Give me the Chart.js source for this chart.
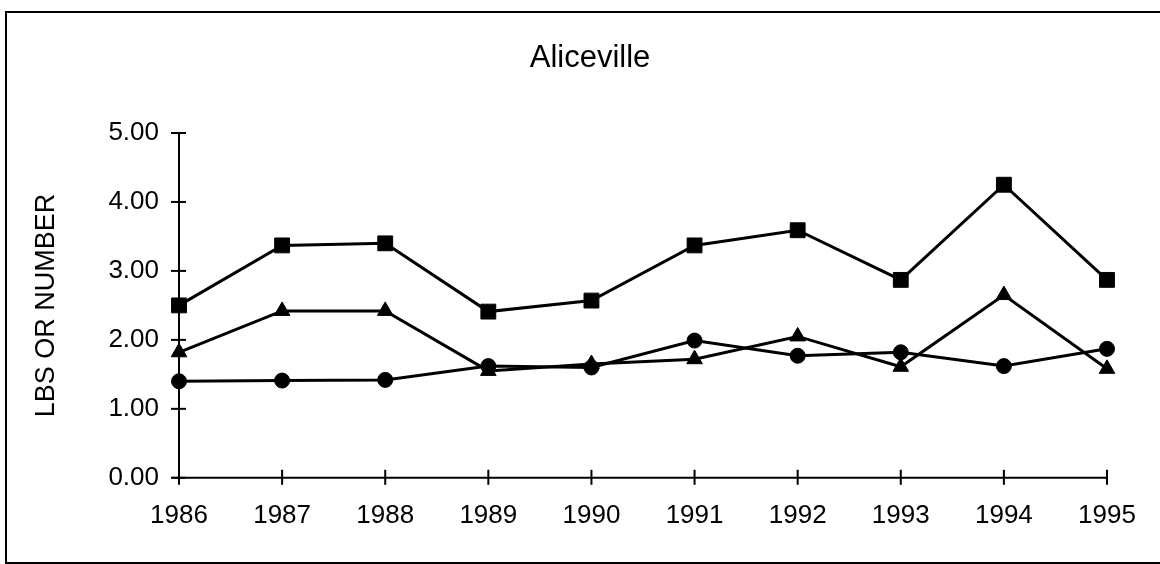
<!DOCTYPE html>
<html>
<head>
<meta charset="utf-8">
<script src="https://cdn.jsdelivr.net/npm/chart.js@4"></script>
<style>
  html, body { margin: 0; padding: 0; background: #fff; overflow: hidden; }
  #wrap { position: relative; width: 1160px; height: 564px; }
  #frame { position: absolute; left: 5px; top: 11px; width: 1200px; height: 549px;
           border-left: 2px solid #000; border-top: 2px solid #000; border-bottom: 2px solid #000; pointer-events: none; }
  canvas { position: absolute; left: 0; top: 0; }
</style>
</head>
<body>
<div id="wrap">
  <canvas id="c" width="1160" height="564"></canvas>
  <div id="frame"></div>
</div>
<script>
const years = ['1986','1987','1988','1989','1990','1991','1992','1993','1994','1995'];
const squareSeries   = [2.50, 3.37, 3.40, 2.41, 2.57, 3.37, 3.59, 2.87, 4.25, 2.87];
const triangleSeries = [1.82, 2.42, 2.42, 1.55, 1.65, 1.72, 2.05, 1.61, 2.65, 1.58];
const circleSeries   = [1.40, 1.41, 1.42, 1.62, 1.60, 1.99, 1.77, 1.82, 1.62, 1.87];
const yTickValues    = [0, 1, 2, 3, 4, 5];
const chartTitle = 'Aliceville';
const yAxisTitle = 'LBS OR NUMBER';

const FONT = "'Liberation Sans', Arial, Helvetica, sans-serif";

const crossTicks = {
  id: 'crossTicks',
  afterDatasetsDraw(chart) {
    const ctx = chart.ctx;
    const x = chart.scales.x, y = chart.scales.y;
    ctx.save();
    ctx.strokeStyle = '#000';
    ctx.lineWidth = 2;
    const ay = y.getPixelForValue(0);
    const ax = x.getPixelForValue(0);
    yTickValues.forEach(v => {
      const py = y.getPixelForValue(v);
      ctx.beginPath(); ctx.moveTo(ax - 8, py); ctx.lineTo(ax + 7, py); ctx.stroke();
    });
    years.forEach((_, i) => {
      const px = x.getPixelForValue(i);
      ctx.beginPath(); ctx.moveTo(px, ay - 8); ctx.lineTo(px, ay + 7); ctx.stroke();
    });
    ctx.beginPath(); ctx.moveTo(ax, y.getPixelForValue(5) - 1); ctx.lineTo(ax, ay); ctx.stroke();
    ctx.beginPath(); ctx.moveTo(ax - 7, ay); ctx.lineTo(x.getPixelForValue(years.length - 1), ay); ctx.stroke();
    ctx.restore();
  }
};

const common = { borderColor: '#000', backgroundColor: '#000', borderWidth: 3,
  pointBackgroundColor: '#000', pointBorderColor: '#000', pointBorderWidth: 1, tension: 0 };

new Chart(document.getElementById('c'), {
  type: 'line',
  data: {
    labels: years,
    datasets: [
      Object.assign({ label: 'Series 1', data: squareSeries, pointStyle: 'rect', pointRadius: 10.5 }, common),
      Object.assign({ label: 'Series 2', data: triangleSeries, pointStyle: 'triangle', pointRadius: 9 }, common),
      Object.assign({ label: 'Series 3', data: circleSeries, pointStyle: 'circle', pointRadius: 7.5 }, common)
    ]
  },
  options: {
    responsive: false,
    animation: false,
    devicePixelRatio: 1,
    layout: { padding: { left: 20, top: 40, right: 0, bottom: 11 } },
    plugins: {
      legend: { display: false },
      tooltip: { enabled: false },
      title: { display: true, text: chartTitle, color: '#000',
        font: { family: FONT, size: 31, weight: 'normal', lineHeight: 1.2 },
        padding: { top: 0, bottom: 55.8 } }
    },
    scales: {
      x: {
        offset: false,
        grid: { display: false, drawTicks: false },
        border: { display: false },
        ticks: { color: '#000', padding: 22, maxRotation: 0, autoSkip: false,
          font: { family: FONT, size: 26, lineHeight: 1.2 } }
      },
      y: {
        min: 0, max: 5,
        afterFit(scale) { scale.width = 159; },
        afterBuildTicks(scale) { scale.ticks = yTickValues.map(v => ({ value: v })); },
        grid: { display: false, drawTicks: false },
        border: { display: false },
        ticks: { color: '#000', padding: 20,
          font: { family: FONT, size: 26, lineHeight: 1.2 },
          callback: v => Number(v).toFixed(2) },
        title: { display: true, text: yAxisTitle, color: '#000',
          font: { family: FONT, size: 27, lineHeight: 1.2 },
          padding: { top: 10, bottom: 0 } }
      },
      yRightSpace: {
        position: 'right',
        min: 0, max: 5,
        afterFit(scale) { scale.width = 53; },
        grid: { display: false, drawTicks: false },
        border: { display: false },
        ticks: { display: false }
      }
    }
  },
  plugins: [crossTicks]
});
</script>
</body>
</html>
